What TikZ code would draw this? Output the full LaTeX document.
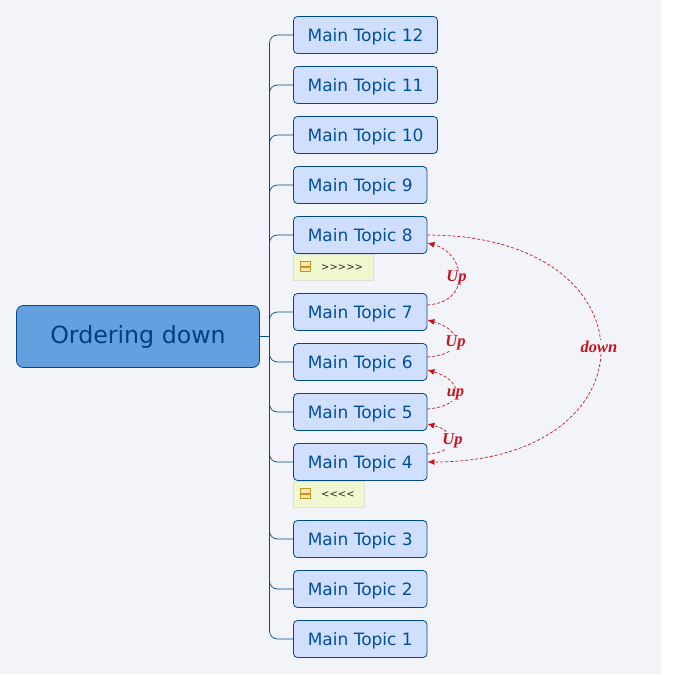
\documentclass[tikz,border=0pt]{standalone}
\usepackage{fontspec}
\setmainfont{DejaVu Sans}
\newfontfamily\labelfont{Liberation Serif}
\usetikzlibrary{arrows.meta}
\definecolor{pagebg}{HTML}{F2F4FA}
\definecolor{topicline}{HTML}{004A8C}
\definecolor{topictext}{HTML}{004F9F}
\definecolor{topicfill}{HTML}{D1DFFF}
\definecolor{rootfill}{HTML}{64A0E0}
\definecolor{rootext}{HTML}{003F84}
\definecolor{notefill}{HTML}{EFF8CE}
\definecolor{noteline}{HTML}{DDE0D6}
\definecolor{iconline}{HTML}{C4962A}
\definecolor{iconfill}{HTML}{FBE6A8}
\definecolor{relred}{HTML}{C8141E}
\tikzset{>={Latex[length=7pt,width=6pt]}}
\tikzset{
 topic/.style={draw=topicline, fill=topicfill, text=topictext, rounded corners=4pt, line width=.8pt, minimum height=37pt, minimum width=133.5pt, inner sep=0pt, text depth=0pt, font=\fontsize{17}{19}\selectfont},
 widetopic/.style={topic, minimum width=144pt},
 root/.style={draw=topicline, fill=rootfill, text=rootext, rounded corners=7pt, line width=.8pt, minimum height=62pt, minimum width=243pt, inner sep=0pt, font=\fontsize{23.7}{26}\selectfont},
 note/.style={draw=noteline, fill=notefill, minimum height=26pt, inner sep=0pt},
 notetext/.style={text=black!85, inner sep=0pt, anchor=west, font=\fontsize{10}{12}\selectfont},
 notemark/.style={draw=iconline, fill=iconfill, line width=.7pt},
 branch/.style={draw=topicline, line width=.7pt, rounded corners=8pt},
 relation/.style={draw=relred, densely dashed, line width=.7pt, ->},
 rellabel/.style={fill=pagebg, text=relred, inner sep=1pt, font=\labelfont\fontsize{16.5}{18}\selectfont\bfseries\itshape},
}
\begin{document}
\begin{tikzpicture}[x=1pt, y=-1pt]
\useasboundingbox (0,0) rectangle (676,674);
\fill [pagebg] (0,0) rectangle (661,674);

	\node [root] (root) at (138,336.5) {Ordering down};
	\coordinate (trunk) at (269.5,336.5);

	\node [widetopic] (t12) at (365.5,35) {Main Topic 12};
	\node [widetopic] (t11) at (365.5,85) {Main Topic 11};
	\node [widetopic] (t10) at (365.5,135) {Main Topic 10};
	\foreach \i/\ypos in {9/185,8/235,7/312,6/362,5/412,4/462,3/539,2/589,1/639}
		\node [topic] (t\i) at (360.25,\ypos) {Main Topic \i};

	\draw [branch] (root.east) -- (trunk);
	\foreach \i in {12,11,10,9,8,7,6,5,4,3,2,1}
		\draw [branch] (trunk) |- (t\i.west);

	\node [note, minimum width=80pt] (note8) at (333.5,267) {};
	\node [note, minimum width=71pt] (note4) at (329,494) {};
	\node [notetext] (mark8) at (321,267.5) {>{}>{}>{}>{}>};
	\node [notetext] (mark4) at (321,494.5) {<{}<{}<{}<};
	\foreach \ypos in {267,494} {
		\draw [notemark] (300.5,\ypos-5.7) rectangle (310.5,\ypos-1);
		\draw [notemark] (300.5,\ypos+.5) rectangle (310.5,\ypos+4.7);
	}

	\draw [relation] ([yshift=7pt]t7.east) .. controls +(45,-3) and +(38,10) .. ([yshift=-8pt]t8.east);
	\draw [relation] ([yshift=5pt]t6.east) .. controls +(40,-3) and +(35,10) .. ([yshift=-8pt]t7.east);
	\draw [relation] ([yshift=3pt]t5.east) .. controls +(40,-3) and +(35,10) .. ([yshift=-8pt]t6.east);
	\draw [relation] ([yshift=8pt]t4.east) .. controls +(32,-2) and +(29,7) .. ([yshift=-12pt]t5.east);
	\draw [relation] (t8.east) .. controls +(230.5,0) and +(230.5,0) .. (t4.east);

	\node [rellabel] (up8) at (456.5,278) {Up};
	\node [rellabel] (up7) at (455.5,343) {Up};
	\node [rellabel] (up6) at (455.5,394.5) {up};
	\node [rellabel] (up5) at (452.5,441) {Up};
	\node [rellabel] (down4) at (599,347) {down};
\end{tikzpicture}
\end{document}
